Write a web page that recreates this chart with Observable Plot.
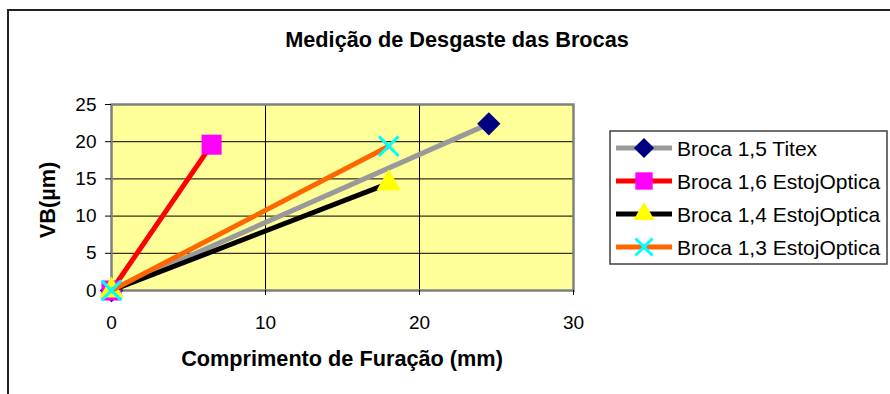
<!DOCTYPE html>
<html><head><meta charset="utf-8">
<script src="https://cdn.jsdelivr.net/npm/d3@7"></script>
<script src="https://cdn.jsdelivr.net/npm/@observablehq/plot@0.6"></script>
<style>
body{margin:0;background:#fff}
#chart{position:relative;width:890px;height:394px;overflow:hidden}
svg{font-family:"Liberation Sans",Arial,sans-serif}
</style>
</head><body><div id="chart"></div>
<script>
const chartTitle = "Medição de Desgaste das Brocas";
const xLabel = "Comprimento de Furação (mm)";
const yLabel = "VB(µm)";
const seriesNames = ["Broca 1,5 Titex","Broca 1,6 EstojOptica","Broca 1,4 EstojOptica","Broca 1,3 EstojOptica"];
const xValues = [[0,24.5],[0,6.5],[0,18],[0,18]];
const yValues = [[0,22.4],[0,19.6],[0,14.4],[0,19.4]];
const lineColors = ["#999999","#FF0000","#000000","#FF6600"];
const markerColors = ["#000080","#FF00FF","#FFFF00","#00FFFF"];
const markerSymbols = ["diamond2","square","triangle","times"];
const xTicks = [0,10,20,30];
const yTicks = [0,5,10,15,20,25];

const W = 890, H = 394;
const data = seriesNames.map((name,i)=>xValues[i].map((x,j)=>({series:name,x,y:yValues[i][j]})));

function dotOpts(i){
  const o = {x:"x", y:"y", symbol: markerSymbols[i]};
  if (markerSymbols[i]==="times"){ o.stroke = markerColors[i]; o.strokeWidth = 3; o.fill = "none"; o.r = 9; }
  else { o.fill = markerColors[i]; o.stroke = "none"; o.r = markerSymbols[i]==="square" ? 11.3 : (markerSymbols[i]==="diamond2" ? 10.5 : 9); }
  return o;
}

const marks = [
  Plot.frame({fill:"#FFFF99"}),
  Plot.gridY(yTicks, {stroke:"#000", strokeOpacity:1, strokeWidth:1}),
  Plot.gridX(xTicks, {stroke:"#000", strokeOpacity:1, strokeWidth:1}),
  Plot.frame({stroke:"#808080", strokeWidth:2.5}),
  Plot.axisX(xTicks, {tickSize:5, tickPadding:20, fontSize:19, label:null, stroke:"#000"}),
  Plot.axisY(yTicks, {tickSize:6, tickPadding:9, fontSize:19, label:null, stroke:"#000"})
];
data.forEach((d,i)=>{
  marks.push(Plot.line(d,{x:"x",y:"y",stroke:lineColors[i],strokeWidth:5}));
  marks.push(Plot.dot(d,dotOpts(i)));
});

const plot = Plot.plot({
  width: W, height: H,
  marginLeft: 111, marginRight: W-573, marginTop: 104, marginBottom: H-290,
  x:{domain:[0,30], ticks: xTicks},
  y:{domain:[0,25], ticks: yTicks},
  style:{fontFamily:"Liberation Sans, Arial, sans-serif", color:"#000", background:"#fff"},
  marks
});
document.getElementById("chart").appendChild(plot);

const svg = d3.select(plot);
// outer chart border
svg.append("path").attr("d","M8,394V10H890").attr("fill","none").attr("stroke","#222").attr("stroke-width",2);
// title
svg.append("text").attr("x",457).attr("y",47).attr("text-anchor","middle")
  .attr("font-size",21.7).attr("font-weight","bold").attr("fill","#000").text(chartTitle);
// x label
svg.append("text").attr("x",342).attr("y",366).attr("text-anchor","middle")
  .attr("font-size",21.7).attr("font-weight","bold").attr("fill","#000").text(xLabel);
// y label
svg.append("text").attr("transform","translate(55,200) rotate(-90)").attr("text-anchor","middle")
  .attr("font-size",21.7).attr("font-weight","bold").attr("fill","#000").text(yLabel);

// legend
const lg = svg.append("g");
lg.append("rect").attr("x",610).attr("y",131).attr("width",277).attr("height",133)
  .attr("fill","#fff").attr("stroke","#404040").attr("stroke-width",1.5);
const rowY = [148,181,214,247];
const sym = {diamond2:d3.symbolDiamond2, square:d3.symbolSquare, triangle:d3.symbolTriangle, times:d3.symbolTimes};
seriesNames.forEach((name,i)=>{
  const y = rowY[i];
  lg.append("line").attr("x1",616).attr("x2",672).attr("y1",y).attr("y2",y)
    .attr("stroke",lineColors[i]).attr("stroke-width",5);
  const o = dotOpts(i);
  lg.append("path").attr("transform",`translate(644,${y})`)
    .attr("d",d3.symbol(sym[markerSymbols[i]], Math.PI*o.r*o.r*0.75)())
    .attr("fill",o.fill).attr("stroke",o.stroke).attr("stroke-width",o.strokeWidth||0);
  lg.append("text").attr("x",677).attr("y",y).attr("dy","0.36em").attr("text-anchor","start")
    .attr("font-size",21).attr("fill","#000").text(name);
});
</script>
</body></html>
